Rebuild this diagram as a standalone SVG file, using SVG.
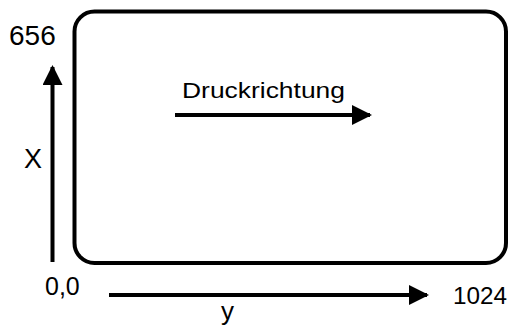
<svg xmlns="http://www.w3.org/2000/svg" width="512" height="329" viewBox="0 0 512 329">
<style>
.t{font-family:"Liberation Sans",Arial,sans-serif;fill:#000}
.l{stroke:#000;stroke-width:4;fill:none}
</style>
<defs>
<marker id="ah" markerUnits="userSpaceOnUse" markerWidth="20" markerHeight="20" refX="18" refY="10" orient="auto" viewBox="0 0 20 20">
<path d="M0,0 L20,10 L0,20 Z" fill="#000"/>
</marker>
</defs>
<rect width="512" height="329" fill="#fff"/>
<g id="plate">
<rect x="74.5" y="11.5" width="431.5" height="251.5" rx="20" ry="20" class="l" stroke-width="3.5"/>
</g>
<g id="connectors">
<line x1="52.5" y1="262" x2="52.5" y2="67" class="l" marker-end="url(#ah)"/>
<line x1="109" y1="295" x2="427" y2="295" class="l" marker-end="url(#ah)"/>
<line x1="175" y1="115" x2="370" y2="115" class="l" marker-end="url(#ah)"/>
</g>
<g id="labels">
<text class="t" x="9" y="45" font-size="28">656</text>
<text class="t" x="24" y="168" font-size="27">X</text>
<text class="t" x="45" y="295" font-size="25">0,0</text>
<text class="t" x="221" y="320" font-size="26">y</text>
<text class="t" x="453" y="304" font-size="24" textLength="54" lengthAdjust="spacingAndGlyphs">1024</text>
<text class="t" x="182" y="98" font-size="22.5" textLength="163" lengthAdjust="spacingAndGlyphs">Druckrichtung</text>
</g>
</svg>
